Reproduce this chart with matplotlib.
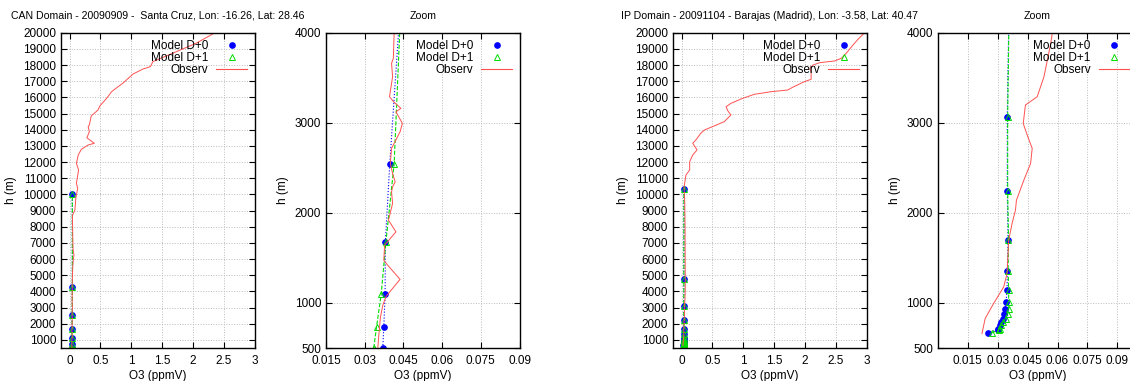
import matplotlib
matplotlib.use("Agg")
import matplotlib.pyplot as plt
from matplotlib.lines import Line2D

plt.rcParams['font.family'] = ['Liberation Sans', 'DejaVu Sans']
plt.rcParams['font.size'] = 8.5

# CAN domain, Santa Cruz
can_title = "CAN Domain - 20090909 -  Santa Cruz, Lon: -16.26, Lat: 28.46"
can_h_d0 = [500, 738, 1100, 1674, 2544, 4300, 10000]
can_o3_d0 = [0.0370, 0.0374, 0.0379, 0.0380, 0.0397, 0.0438, 0.042]
can_h_d1 = [500, 738, 1100, 1674, 2544, 4300, 10000]
can_o3_d1 = [0.0335, 0.0346, 0.0364, 0.0382, 0.0414, 0.0440, 0.043]
can_h_obs = [507, 622, 844, 974, 1074, 1262, 1419, 1474, 1641, 1789, 1919, 2104,
             2233, 2289, 2344, 2437, 2549, 2716, 2900, 2993, 3122, 3160, 3233,
             3289, 3511, 3660, 3716, 4000, 4500, 5500, 6000, 6253, 6600, 7500,
             8500, 8730, 9035, 9760, 10380, 10690, 11510, 11920, 12440, 12790,
             13055, 13160, 13500, 13880, 14190, 14300, 14850, 15220, 15470,
             15940, 16350, 16500, 16870, 17446, 17755, 17900, 18207, 18726,
             19345, 20000]
can_o3_obs = [0.0351, 0.0354, 0.0361, 0.0370, 0.0383, 0.0437, 0.0389, 0.0374,
              0.0377, 0.0421, 0.0392, 0.0408, 0.0404, 0.0408, 0.0418, 0.0408,
              0.0399, 0.0404, 0.0437, 0.0446, 0.0421, 0.0440, 0.0412, 0.0396,
              0.0408, 0.0404, 0.0411, 0.0414, 0.042, 0.05, 0.06, 0.07, 0.055,
              0.05, 0.045, 0.048, 0.085, 0.10, 0.13, 0.11, 0.145, 0.11, 0.14,
              0.19, 0.30, 0.40, 0.28, 0.32, 0.30, 0.32, 0.35, 0.46, 0.49, 0.60,
              0.68, 0.73, 0.86, 1.03, 1.19, 1.31, 1.35, 1.67, 2.05, 2.36]

# IP domain, Barajas (Madrid)
ip_title = "IP Domain - 20091104 - Barajas (Madrid), Lon: -3.58, Lat: 40.47"
ip_h_d0 = [667, 704, 715, 752, 789, 827, 874, 933, 1011, 1141, 1352, 1697,
           2244, 3067, 4750, 10315]
ip_o3_d0 = [0.0249, 0.0301, 0.0301, 0.0313, 0.0318, 0.0325, 0.0330, 0.0335,
            0.0342, 0.0347, 0.0348, 0.0352, 0.0348, 0.0348, 0.036, 0.037]
ip_h_d1 = ip_h_d0
ip_o3_d1 = [0.0271, 0.0305, 0.0310, 0.0318, 0.0328, 0.0340, 0.0350, 0.0355,
            0.0355, 0.0355, 0.0352, 0.0354, 0.0350, 0.0350, 0.036, 0.037]
ip_h_obs = [660, 827, 993, 1178, 1327, 1697, 1882, 2030, 2141, 2363, 2549,
            2716, 2863, 2993, 3197, 3289, 3511, 3882, 4000, 5000, 6500, 8000,
            9500, 10478, 11200, 11510, 12020, 12440, 12750, 13160, 13365,
            13780, 13983, 14190, 14496, 14910, 15160, 15420, 15634, 15940,
            16190, 16350, 16456, 16623, 16970, 17117, 17590, 17800, 18000,
            18145, 18250, 18416, 18726, 19240, 19590, 20000]
ip_o3_obs = [0.0221, 0.0237, 0.0279, 0.0330, 0.0347, 0.0355, 0.0372, 0.0389,
             0.0394, 0.0431, 0.0465, 0.0473, 0.0448, 0.0428, 0.0439, 0.0498,
             0.0532, 0.0566, 0.0574, 0.058, 0.056, 0.055, 0.05, 0.04, 0.07,
             0.13, 0.13, 0.18, 0.25, 0.18, 0.23, 0.31, 0.37, 0.50, 0.69, 0.80,
             0.75, 0.72, 0.80, 0.99, 1.18, 1.45, 1.72, 1.80, 1.99, 2.10, 2.10,
             2.08, 2.13, 2.24, 2.48, 2.59, 2.67, 2.78, 2.86, 2.97]

big_xticks = [0, 0.5, 1, 1.5, 2, 2.5, 3]
big_xlabels = ["0", "0.5", "1", "1.5", "2", "2.5", "3"]
big_yticks = list(range(1000, 20001, 1000))
zoom_xticks = [0.015, 0.03, 0.045, 0.06, 0.075, 0.09]
zoom_xlabels = ["0.015", "0.03", "0.045", "0.06", "0.075", "0.09"]
zoom_yticks = [500, 1000, 2000, 3000, 4000]

fig = plt.figure(figsize=(11.3, 3.81), dpi=100)

bottom = 0.0866
height = 0.9142 - 0.0866
positions = [0.0540, 0.2885, 0.5956, 0.830]
width = 0.1713

BLUE = '#0000ff'
GREEN = '#00dd00'
RED = '#ff5050'


def draw(ax, h0, x0, h1, x1, hobs, xobs):
    ax.plot(x0, h0, color=BLUE, linestyle=':', linewidth=0.8)
    ax.plot(x1, h1, color=GREEN, linestyle='--', linewidth=0.8)
    ax.plot(x0, h0, linestyle='none', marker='o', markersize=3.8,
            color=BLUE, markeredgecolor=BLUE)
    ax.plot(x1, h1, linestyle='none', marker='^', markersize=4,
            markerfacecolor='none', markeredgecolor=GREEN,
            markeredgewidth=0.7)
    ax.plot(xobs, hobs, color=RED, linewidth=0.7)
    ax.grid(True, color='#bbbbbb', linestyle=':', linewidth=0.7)
    ax.tick_params(direction='in', top=True, right=True, length=4, width=0.8)
    ax.tick_params(axis='x', pad=5)
    for s in ax.spines.values():
        s.set_linewidth(1.0)
    handles = [
        Line2D([], [], linestyle='none', marker='o', markersize=3.8,
               color=BLUE),
        Line2D([], [], linestyle='none', marker='^', markersize=4,
               markerfacecolor='none', markeredgecolor=GREEN,
               markeredgewidth=0.7),
        Line2D([], [], color=RED, linewidth=0.8),
    ]
    ax.legend(handles, ["Model D+0", "Model D+1", "Observ"], loc='upper right',
              frameon=False, markerfirst=False, handlelength=2.6,
              labelspacing=0.0, borderpad=0.15, handletextpad=0.7,
              fontsize=8.5)
    ax.set_xlabel("O3 (ppmV)", labelpad=2)
    ax.set_ylabel("h (m)")


data = [(can_h_d0, can_o3_d0, can_h_d1, can_o3_d1, can_h_obs, can_o3_obs, can_title),
        (ip_h_d0, ip_o3_d0, ip_h_d1, ip_o3_d1, ip_h_obs, ip_o3_obs, ip_title)]

for i, (h0, x0, h1, x1, hobs, xobs, title) in enumerate(data):
    axb = fig.add_axes([positions[2 * i], bottom, width, height])
    draw(axb, h0, x0, h1, x1, hobs, xobs)
    axb.set_xlim(-0.14, 3)
    axb.set_ylim(500, 20000)
    axb.set_xticks(big_xticks)
    axb.set_xticklabels(big_xlabels)
    axb.set_yticks(big_yticks)
    axb.set_title(title, fontsize=7.6, pad=10)

    axz = fig.add_axes([positions[2 * i + 1], bottom, width * (1 if i == 0 else 1.03), height])
    draw(axz, h0, x0, h1, x1, hobs, xobs)
    if i == 0:
        axz.set_xlim(0.015, 0.09)
    else:
        axz.set_xlim(0, 0.1)
    axz.set_ylim(500, 4000)
    axz.set_xticks(zoom_xticks)
    axz.set_xticklabels(zoom_xlabels)
    axz.set_yticks(zoom_yticks)
    axz.set_title("Zoom", fontsize=7.6, pad=10)

fig.savefig("out.png", dpi=100)
